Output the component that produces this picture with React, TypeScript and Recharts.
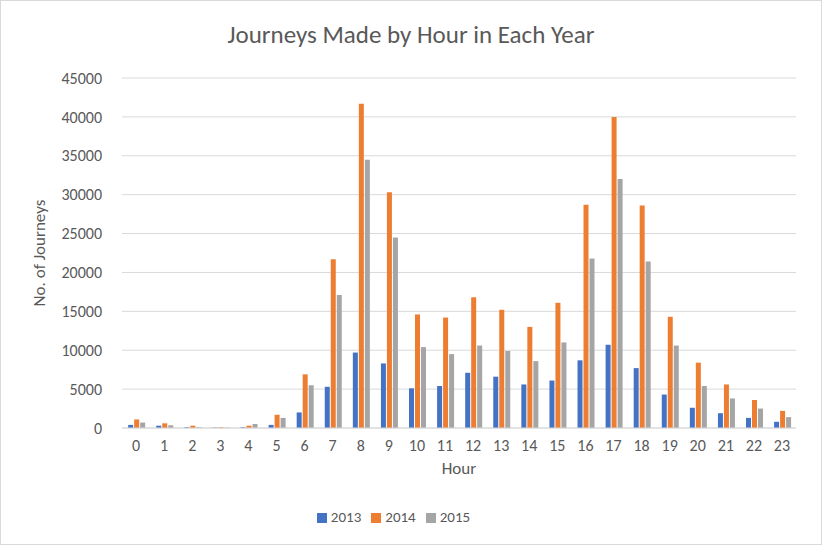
import { Bar, BarChart, CartesianGrid, Legend, XAxis, YAxis } from 'recharts';

const hours = ['0','1','2','3','4','5','6','7','8','9','10','11','12','13','14','15','16','17','18','19','20','21','22','23'];
const y2013 = [400,300,100,50,100,400,2000,5300,9700,8300,5100,5400,7100,6600,5600,6100,8700,10700,7700,4300,2600,1900,1300,800];
const y2014 = [1100,600,300,100,300,1700,6900,21700,41700,30300,14600,14200,16800,15200,13000,16100,28700,40000,28600,14300,8400,5600,3600,2200];
const y2015 = [700,350,100,50,500,1300,5500,17100,34500,24500,10400,9500,10600,9900,8600,11000,21800,32000,21400,10600,5400,3800,2500,1400];
const yTicks = [0,5000,10000,15000,20000,25000,30000,35000,40000,45000];

const data = hours.map((h, i) => ({ hour: h, y2013: y2013[i], y2014: y2014[i], y2015: y2015[i] }));

const font = 'Calibri, Carlito, "Open Sans", sans-serif';
const grey = '#595959';

export default function App() {
  return (
    <div style={{ position: 'absolute', left: 0, top: 0, width: 820, height: 543, border: '1px solid #d9d9d9', background: '#fff', fontFamily: font }}>
      <div style={{ position: 'absolute', top: 18, width: '100%', textAlign: 'center', fontSize: 25, color: grey }}>
        Journeys Made by Hour in Each Year
      </div>
      <BarChart width={820} height={543} data={data} margin={{ top: 77, right: 25, left: 0, bottom: 38 }} barGap={1} barCategoryGap="22%">
        <CartesianGrid vertical={false} stroke="#d9d9d9" />
        <XAxis dataKey="hour" tickLine={false} stroke="#d9d9d9" tick={{ fill: grey, fontSize: 16 }} tickMargin={6} height={60}
          label={{ value: 'Hour', position: 'insideBottom', offset: 14, fill: grey, fontSize: 17 }} />
        <YAxis width={121} domain={[0, 45000]} ticks={yTicks} axisLine={false} tickLine={false} tick={{ fill: grey, fontSize: 16 }} tickMargin={14}
          label={{ value: 'No. of Journeys', angle: -90, position: 'insideLeft', offset: 38, fill: grey, fontSize: 17, style: { textAnchor: 'middle' } }} />
        <Legend verticalAlign="bottom" iconType="square" iconSize={10} wrapperStyle={{ bottom: 18, fontSize: 15, color: grey }} formatter={(v) => <span style={{ color: grey }}>{v}</span>} />
        <Bar dataKey="y2013" name="2013" fill="#4472C4" isAnimationActive={false} />
        <Bar dataKey="y2014" name="2014" fill="#ED7D31" isAnimationActive={false} />
        <Bar dataKey="y2015" name="2015" fill="#A5A5A5" isAnimationActive={false} />
      </BarChart>
    </div>
  );
}
